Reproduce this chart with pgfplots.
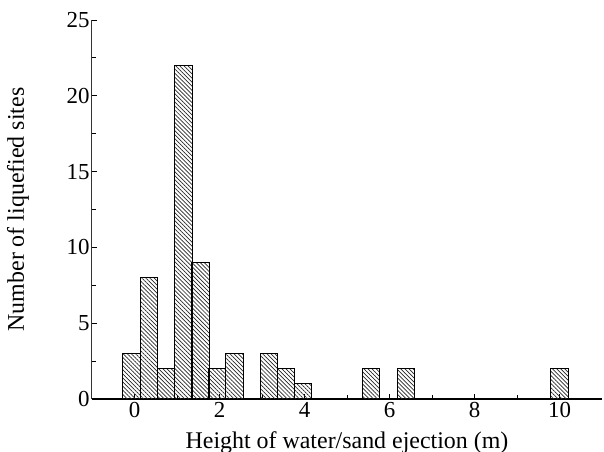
\documentclass[border=0pt]{standalone}
\usepackage{pgfplots}
\pgfplotsset{compat=1.18}
\usepackage{fontspec}
\setmainfont{Liberation Serif}
\usetikzlibrary{patterns.meta}

\begin{document}
\begin{tikzpicture}
\begin{axis}[
  scale only axis, width=510bp, height=379bp,
  xmin=-1, xmax=11, ymin=0, ymax=25,
  axis x line*=bottom, axis y line*=left,
  x axis line style={line width=1.5bp, black},
  y axis line style={line width=1bp, black!80},
  xtick={0,2,...,10}, minor xtick={1,3,...,9},
  ytick={0,5,...,25}, minor ytick={2.5,7.5,...,22.5},
  tick align=inside, major tick length=5bp, minor tick length=4bp,
  tick style={line width=0.8bp, black},
  ticklabel style={font=\fontsize{23}{25}\selectfont},
  yticklabel style={xshift=1bp},
  /pgf/number format/assume math mode=true,
  xlabel={Height of water/sand ejection (m)},
  ylabel={Number of liquefied sites},
  label style={font=\fontsize{24}{27}\selectfont},
  xlabel style={at={(axis description cs:0.5,0)}, anchor=base, yshift=-49bp},
  ylabel style={at={([xshift=-74bp]axis description cs:0,0.5)}, anchor=center},
  clip=false,
]
\addplot[ybar, bar width=0.405, draw=black, line width=0.9bp,
  pattern={Lines[angle=-45,distance=2.9bp,line width=0.7bp]}, pattern color=black!85]
  coordinates {
  (-0.07,3) (0.34,8) (0.745,2) (1.15,22) (1.55,9) (1.945,2) (2.35,3)
  (3.16,3) (3.56,2) (3.96,1)
  (5.57,2) (6.385,2) (10.0,2)
  };
\coordinate (ll) at (rel axis cs:0,0);
\coordinate (ur) at (rel axis cs:1,1);
\end{axis}
\pgfresetboundingbox
\path ([shift={(-92bp,-53bp)}]ll) rectangle ([shift={(2bp,20bp)}]ur);
\end{tikzpicture}
\end{document}
